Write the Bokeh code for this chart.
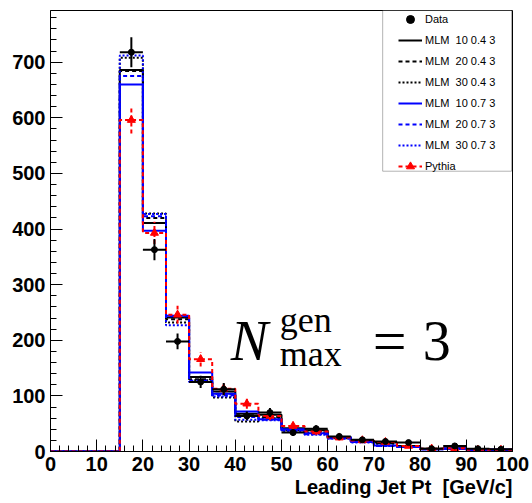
import numpy as np
from bokeh.plotting import figure
from bokeh.models import (Range1d, SingleIntervalTicker, Legend, LegendItem, Label,
                          Title, BoxAnnotation)
from bokeh.core.properties import value
from bokeh.embed import file_html
from bokeh.resources import INLINE

# ---- data ----
bin_low = [0, 5, 10, 15, 20, 25, 30, 35, 40, 45, 50, 55, 60, 65, 70, 75, 80, 85, 90, 95]
bin_width = 5

data_counts = [0, 0, 0, 718, 363, 198, 125, 112, 64, 70, 34, 41, 27, 21, 18, 16, 5, 10, 5, 4]
data_errors = [0, 0, 0, 27, 19, 14, 11, 11, 8, 8, 6, 6, 5, 5, 4, 4, 2, 3, 2, 2]

mlm_10_04 = [0, 0, 0, 686, 411, 241, 134, 108, 68, 66, 42, 38, 26, 20, 16, 10, 5, 6, 4, 3]
mlm_20_04 = [0, 0, 0, 684, 420, 238, 130, 104, 65, 62, 40, 36, 25, 19, 15, 9, 5, 6, 4, 3]
mlm_30_04 = [0, 0, 0, 708, 428, 232, 128, 97, 54, 60, 38, 34, 24, 18, 14, 9, 4, 5, 3, 3]
mlm_10_07 = [0, 0, 0, 660, 397, 244, 142, 104, 72, 58, 40, 33, 26, 17, 11, 8, 4, 5, 3, 3]
mlm_20_07 = [0, 0, 0, 675, 423, 243, 127, 101, 62, 57, 38, 31, 24, 17, 10, 8, 4, 5, 3, 3]
mlm_30_07 = [0, 0, 0, 712, 427, 227, 125, 99, 57, 56, 37, 30, 23, 16, 10, 8, 4, 5, 3, 3]

pythia_counts = [0, 0, 0, 596, 393, 246, 166, 113, 86, 64, 46, 36, 25, 20, 17, 10, 5, 6, 3, 3]
pythia_errors = [0, 0, 0, 24, 20, 16, 13, 11, 9, 8, 7, 6, 5, 4, 4, 3, 2, 2, 2, 2]

legend_labels = ["Data", "MLM\u00a0 10 0.4 3", "MLM\u00a0 20 0.4 3", "MLM\u00a0 30 0.4 3",
                 "MLM\u00a0 10 0.7 3", "MLM\u00a0 20 0.7 3", "MLM\u00a0 30 0.7 3", "Pythia"]

FONT = "Liberation Sans"

p = figure(width=532, height=503, output_backend="svg", toolbar_location=None,
           x_range=Range1d(0, 100), y_range=Range1d(0, 793),
           min_border_left=50, min_border_right=20, min_border_top=10,
           min_border_bottom=52)
p.grid.visible = False
p.outline_line_color = "black"
p.outline_line_width = 1
p.background_fill_color = "white"
p.border_fill_color = "white"

for ax, interval in ((p.xaxis[0], 10), (p.yaxis[0], 100)):
    ax.ticker = SingleIntervalTicker(interval=interval, num_minor_ticks=5)
    ax.major_tick_in = 12
    ax.major_tick_out = 0
    ax.minor_tick_in = 6
    ax.minor_tick_out = 0
    ax.axis_line_color = "black"
    ax.major_tick_line_color = "black"
    ax.minor_tick_line_color = "black"
    ax.major_label_text_font = FONT
    ax.major_label_text_font_style = "bold"
    ax.major_label_text_font_size = "20px"
    ax.major_label_text_color = "black"
p.xaxis.major_label_standoff = 5
p.yaxis.major_label_standoff = 5

p.add_layout(Title(text="Leading Jet Pt \u00a0[GeV/c]", align="right",
                   text_font=FONT, text_font_style="bold", text_font_size="20px",
                   text_color="black", offset=0, standoff=0), "below")

edges = list(bin_low) + [bin_low[-1] + bin_width]

def hist(vals, color, dash):
    yv = list(vals) + [vals[-1]]
    return p.step(x=edges, y=yv, mode="after", line_color=color, line_width=2,
                  line_dash=dash)

r1 = hist(mlm_10_04, "black", "solid")
r2 = hist(mlm_20_04, "black", "4 3")
r3 = hist(mlm_30_04, "black", "2 2")
r4 = hist(mlm_10_07, "blue", "solid")
r5 = hist(mlm_20_07, "blue", "4 3")
r6 = hist(mlm_30_07, "blue", "2 2")
r7 = hist(pythia_counts, "red", "4 3")

# Pythia error bars + markers
pc = [lo + bin_width / 2 for lo, v in zip(bin_low, pythia_counts) if v > 0]
pv = [v for v in pythia_counts if v > 0]
pe = [e for e, v in zip(pythia_errors, pythia_counts) if v > 0]
p.segment(x0=pc, x1=pc, y0=[v - e for v, e in zip(pv, pe)], y1=[v + e for v, e in zip(pv, pe)],
          line_color="red", line_width=2, line_dash="4 3")
r7m = p.scatter(x=pc, y=pv, marker="triangle", size=8, fill_color="red", line_color="red")

# Data points
dl = [lo for lo, v in zip(bin_low, data_counts) if v > 0]
dc = [lo + bin_width / 2 for lo in dl]
dv = [v for v in data_counts if v > 0]
de = [e for e, v in zip(data_errors, data_counts) if v > 0]
p.segment(x0=dc, x1=dc, y0=[v - e for v, e in zip(dv, de)], y1=[v + e for v, e in zip(dv, de)],
          line_color="black", line_width=2)
p.segment(x0=dl, x1=[x + bin_width for x in dl], y0=dv, y1=dv,
          line_color="black", line_width=2)
r0 = p.scatter(x=dc, y=dv, marker="circle", size=6, fill_color="black", line_color="black")

# Legend box
box = BoxAnnotation(left=71.9, right=99.8, bottom=504, top=793,
                    fill_color="white", fill_alpha=1.0, line_color="black", line_width=1)
p.add_layout(box)

items = [LegendItem(label=legend_labels[0], renderers=[r0]),
         LegendItem(label=legend_labels[1], renderers=[r1]),
         LegendItem(label=legend_labels[2], renderers=[r2]),
         LegendItem(label=legend_labels[3], renderers=[r3]),
         LegendItem(label=legend_labels[4], renderers=[r4]),
         LegendItem(label=legend_labels[5], renderers=[r5]),
         LegendItem(label=legend_labels[6], renderers=[r6]),
         LegendItem(label=legend_labels[7], renderers=[r7, r7m])]
legend = Legend(items=items, location=(348, 275), padding=0, spacing=1, margin=0,
                glyph_height=20, glyph_width=24, label_height=20, label_standoff=3,
                label_text_font=FONT, label_text_font_size="11px",
                label_text_color="black",
                border_line_alpha=0, background_fill_alpha=0)
p.add_layout(legend)

# N_max^gen = 3 annotation
SERIF = "Liberation Serif"
p.add_layout(Label(x=39.0, y=198, text="N", text_font=SERIF, text_font_style="italic",
                   text_font_size="56px", text_baseline="alphabetic", text_color="black"))
p.add_layout(Label(x=49.6, y=236, text="gen", text_font=SERIF, text_color="black",
                   text_font_size="36px", text_baseline="alphabetic"))
p.add_layout(Label(x=49.6, y=176, text="max", text_font=SERIF, text_color="black",
                   text_font_size="36px", text_baseline="alphabetic"))
p.add_layout(Label(x=73.4, y=198, text="=", text_font=SERIF, text_align="center",
                   text_color="black",
                   text_font_size="60px", text_baseline="alphabetic"))
p.add_layout(Label(x=83.6, y=198, text="3", text_font=SERIF, text_align="center",
                   text_color="black",
                   text_font_size="56px", text_baseline="alphabetic"))

open("out.html", "w").write(file_html(p, INLINE))
